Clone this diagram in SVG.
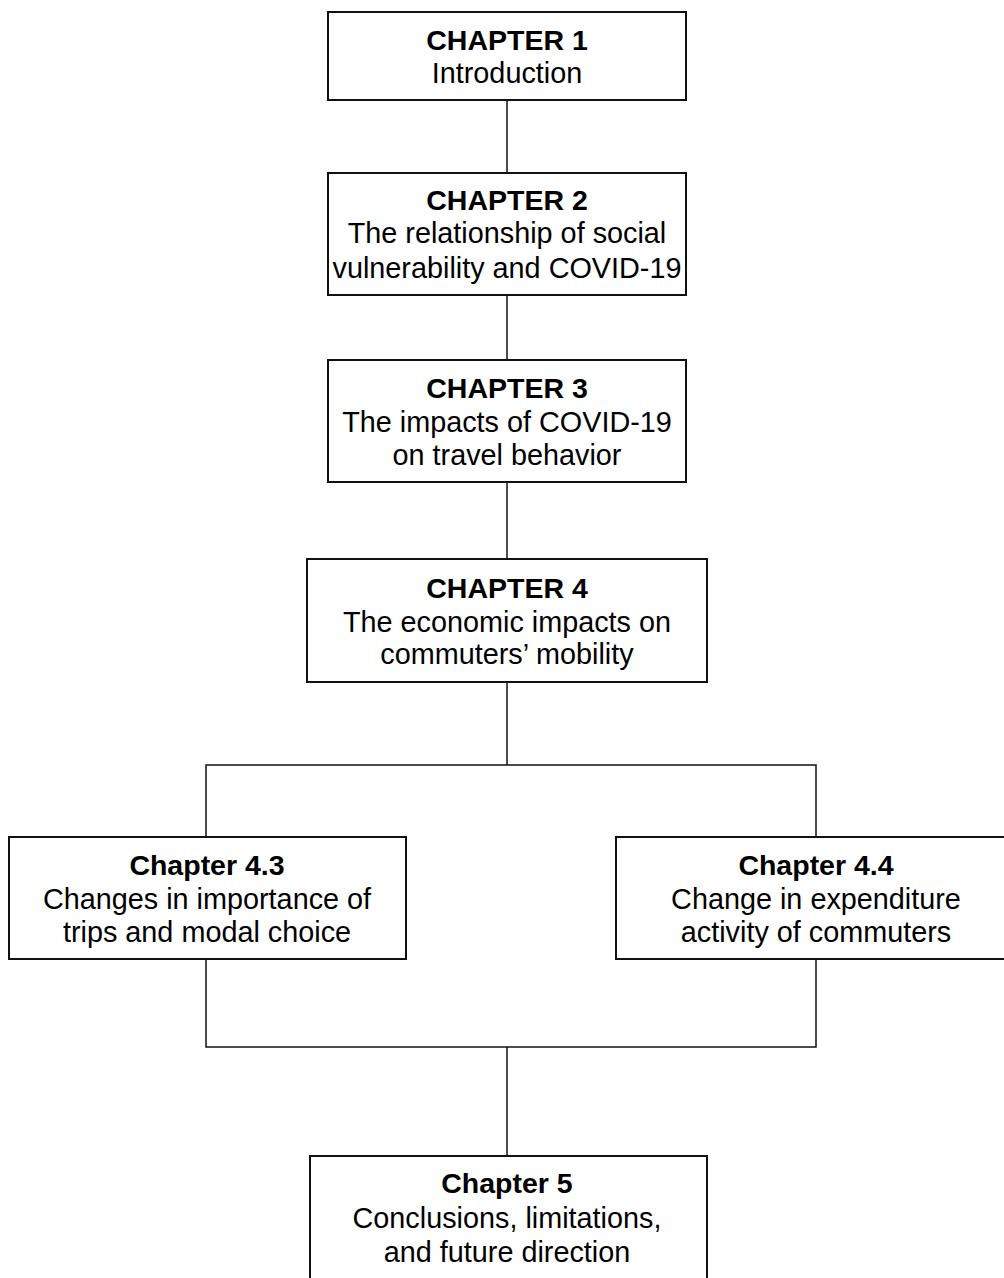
<svg xmlns="http://www.w3.org/2000/svg" width="1004" height="1278" viewBox="0 0 1004 1278">
<style>
.box{fill:#fff;stroke:#111;stroke-width:2}
.con{fill:none;stroke:#111;stroke-width:1.5}
text{font-family:"Liberation Sans",Arial,sans-serif;font-size:28.8px;fill:#000;text-anchor:middle}
.b{font-weight:bold;font-size:28.5px}
</style>
<rect width="1004" height="1278" fill="#fff"/>
<g id="connectors">
<line class="con" x1="507" y1="100" x2="507" y2="173"/>
<line class="con" x1="507" y1="295" x2="507" y2="360"/>
<line class="con" x1="507" y1="482" x2="507" y2="559"/>
<line class="con" x1="507" y1="682" x2="507" y2="765"/>
<polyline class="con" points="206,837 206,765 816,765 816,837"/>
<polyline class="con" points="206,959 206,1047 816,1047 816,959"/>
<line class="con" x1="507" y1="1047" x2="507" y2="1156"/>
</g>
<g id="ch1">
<rect class="box" x="328" y="12" width="358" height="88"/>
<text x="507" y="50" class="b">CHAPTER 1</text>
<text x="507" y="83">Introduction</text>
</g>
<g id="ch2">
<rect class="box" x="328" y="173" width="358" height="122"/>
<text x="507" y="210" class="b">CHAPTER 2</text>
<text x="507" y="243">The relationship of social</text>
<text x="507" y="278">vulnerability and COVID-19</text>
</g>
<g id="ch3">
<rect class="box" x="328" y="360" width="358" height="122"/>
<text x="507" y="398" class="b">CHAPTER 3</text>
<text x="507" y="432">The impacts of COVID-19</text>
<text x="507" y="465">on travel behavior</text>
</g>
<g id="ch4">
<rect class="box" x="307" y="559" width="400" height="123"/>
<text x="507" y="598" class="b">CHAPTER 4</text>
<text x="507" y="632">The economic impacts on</text>
<text x="507" y="664">commuters’ mobility</text>
</g>
<g id="ch43">
<rect class="box" x="9" y="837" width="397" height="122"/>
<text x="207" y="875" class="b">Chapter 4.3</text>
<text x="207" y="909">Changes in importance of</text>
<text x="207" y="942">trips and modal choice</text>
</g>
<g id="ch44">
<rect class="box" x="616" y="837" width="400" height="122"/>
<text x="816" y="875" class="b">Chapter 4.4</text>
<text x="816" y="909">Change in expenditure</text>
<text x="816" y="942">activity of commuters</text>
</g>
<g id="ch5">
<rect class="box" x="310" y="1156" width="397" height="130"/>
<text x="507" y="1193" class="b">Chapter 5</text>
<text x="507" y="1228">Conclusions, limitations,</text>
<text x="507" y="1262">and future direction</text>
</g>
</svg>
